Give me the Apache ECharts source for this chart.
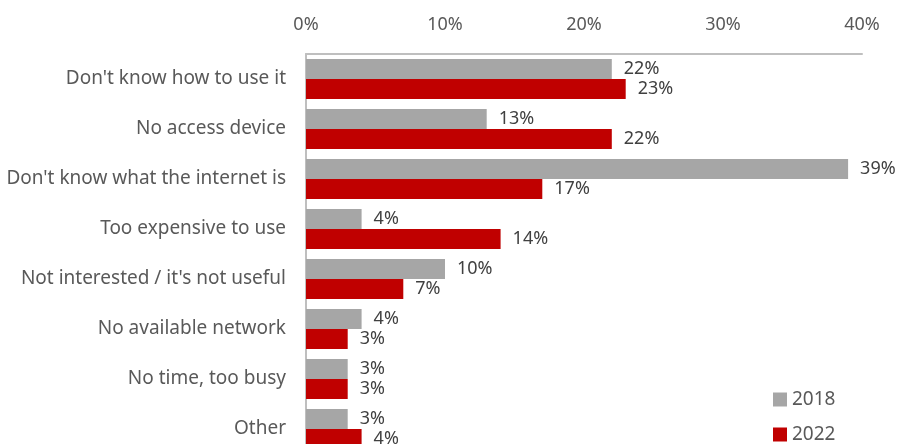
<!DOCTYPE html>
<html>
<head>
<meta charset="utf-8">
<script src="https://cdn.jsdelivr.net/npm/echarts@6/dist/echarts.min.js"></script>
<style>
  html, body { margin: 0; padding: 0; background: #fff; }
  #chart { width: 907px; height: 444px; }
</style>
</head>
<body>
<div id="chart"></div>
<script>
// Reasons for not using the internet, share of respondents (%)
const categories = [
  "Don't know how to use it",
  "No access device",
  "Don't know what the internet is",
  "Too expensive to use",
  "Not interested / it's not useful",
  "No available network",
  "No time, too busy",
  "Other"
];
const values2018 = [22, 13, 39, 4, 10, 4, 3, 3];
const values2022 = [23, 22, 17, 14, 7, 3, 3, 4];
const seriesNames = ['2018', '2022'];
const axisTicks = [0, 10, 20, 30, 40];

const FONT = "Noto Sans";
const chart = echarts.init(document.getElementById('chart'));

const valueLabel = {
  show: true,
  position: 'right',
  distance: 12,
  formatter: p => p.value + '%',
  color: '#404040',
  fontFamily: FONT,
  fontSize: 18
};

// one legend entry per stacked row in the bottom-right corner
function legendEntry(name, top) {
  return {
    orient: 'vertical',
    left: 773,
    top: top,
    padding: 0,
    itemWidth: 14,
    itemHeight: 14,
    icon: 'rect',
    textStyle: { color: '#595959', fontSize: 19, fontFamily: FONT },
    data: [name]
  };
}

chart.setOption({
  animation: false,
  textStyle: { fontFamily: FONT },
  // plot area runs past the bottom edge, so the last row is cut off
  grid: {
    left: 306, width: 556, top: 54, height: 400,
    containLabel: false,
    outerBoundsMode: 'none'
  },
  legend: [legendEntry(seriesNames[0], 390), legendEntry(seriesNames[1], 425)],
  xAxis: {
    type: 'value',
    position: 'top',
    min: axisTicks[0],
    max: axisTicks[axisTicks.length - 1],
    interval: axisTicks[1] - axisTicks[0],
    axisLine: { show: true, lineStyle: { color: '#bfbfbf', width: 2 } },
    axisTick: { show: false },
    splitLine: { show: false },
    axisLabel: {
      formatter: '{value}%',
      color: '#595959',
      fontSize: 18,
      fontFamily: FONT,
      margin: 20
    }
  },
  yAxis: {
    type: 'category',
    inverse: true,
    data: categories,
    axisLine: { show: true, lineStyle: { color: '#bfbfbf', width: 2 } },
    axisTick: { show: false },
    axisLabel: {
      color: '#595959',
      fontSize: 19,
      fontFamily: FONT,
      margin: 20
    }
  },
  series: [
    {
      name: seriesNames[0],
      type: 'bar',
      data: values2018,
      barWidth: 20,
      barGap: '0%',
      itemStyle: { color: '#a6a6a6' },
      label: valueLabel
    },
    {
      name: seriesNames[1],
      type: 'bar',
      data: values2022,
      barWidth: 20,
      barGap: '0%',
      itemStyle: { color: '#c00000' },
      label: valueLabel
    }
  ]
});
</script>
</body>
</html>
